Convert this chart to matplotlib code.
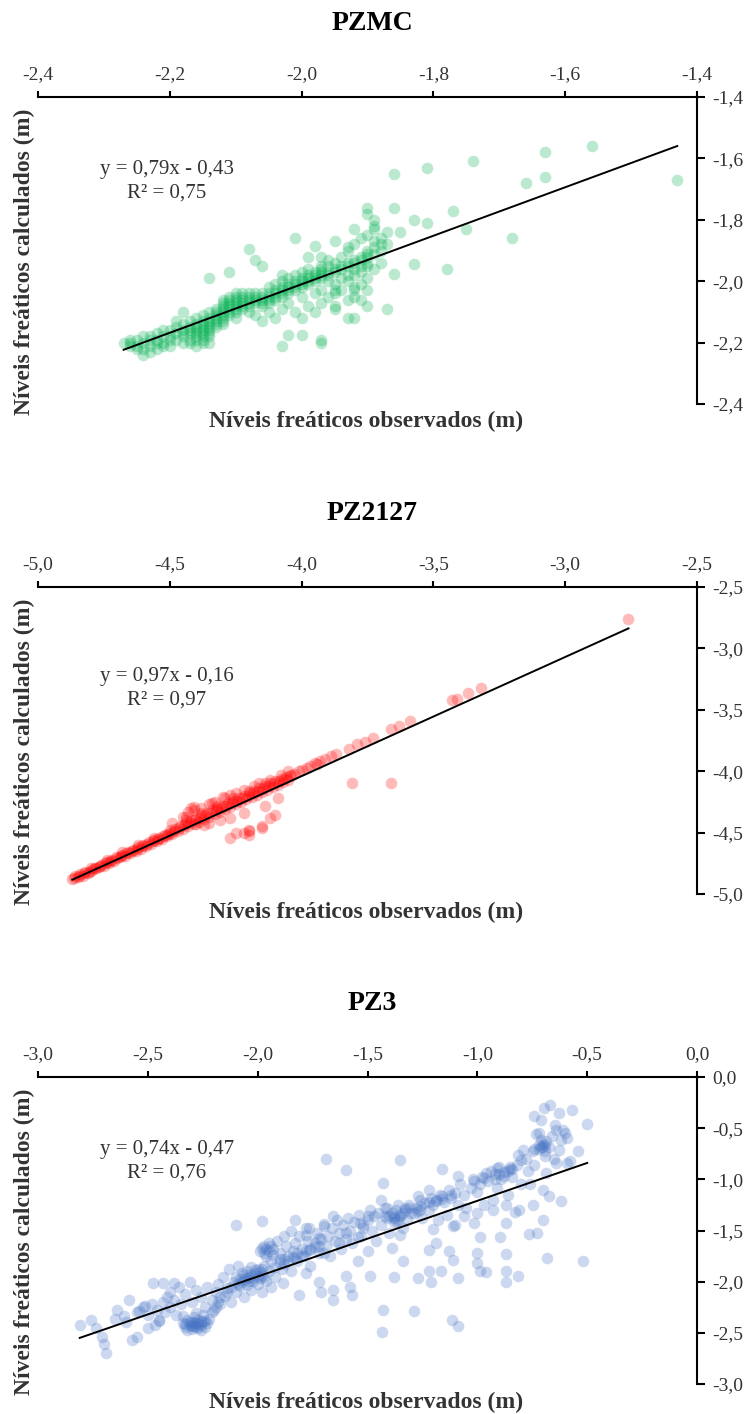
import numpy as np
import matplotlib
matplotlib.use("Agg")
import matplotlib.pyplot as plt
from matplotlib.ticker import FuncFormatter

plt.rcParams['font.family'] = ['Liberation Serif', 'DejaVu Serif']

pzmc_pts = [
    (-1.56, -1.56), (-1.63, -1.58), (-1.63, -1.66), (-1.66, -1.68), (-1.43, -1.67),
    (-1.74, -1.61), (-1.81, -1.63), (-1.86, -1.65), (-1.68, -1.86), (-1.75, -1.83),
    (-1.77, -1.77), (-1.78, -1.96), (-1.81, -1.81), (-1.83, -1.80), (-1.83, -1.945),
    (-1.85, -1.84), (-1.86, -1.76), (-1.86, -1.975), (-1.87, -2.09), (-1.90, -1.76),
    (-1.89, -1.80), (-1.89, -1.83), (-1.92, -1.83), (-1.90, -2.08), (-1.92, -2.12),
    (-1.93, -2.12), (-1.95, -2.09), (-1.97, -2.19), (-1.97, -2.20), (-2.00, -2.175),
    (-2.02, -2.175), (-2.03, -2.21), (-2.01, -1.86), (-1.98, -1.885), (-1.95, -1.87),
    (-1.93, -1.89), (-1.97, -1.92), (-1.99, -1.92), (-2.08, -1.895), (-2.07, -1.93),
    (-2.06, -1.95), (-2.11, -1.97), (-2.14, -1.99), (-2.18, -2.10), (-2.26, -2.20),
    (-2.24, -2.24), (-2.23, -2.23), (-1.95, -2.03), (-1.92, -2.03), (-1.90, -2.03),
    (-1.90, -1.90),
    (-2.27, -2.20), (-2.26, -2.21), (-2.25, -2.19), (-2.25, -2.22), (-2.24, -2.20),
    (-2.24, -2.18), (-2.23, -2.19), (-2.23, -2.21), (-2.22, -2.17), (-2.22, -2.20),
    (-2.22, -2.22), (-2.21, -2.18), (-2.21, -2.20), (-2.20, -2.16), (-2.20, -2.19),
    (-2.20, -2.21), (-2.19, -2.17), (-2.19, -2.15), (-2.18, -2.18), (-2.18, -2.16),
    (-2.18, -2.14), (-2.17, -2.17), (-2.17, -2.15), (-2.17, -2.13), (-2.16, -2.18),
    (-2.16, -2.16), (-2.16, -2.14), (-2.16, -2.12), (-2.15, -2.19), (-2.15, -2.17),
    (-2.15, -2.15), (-2.15, -2.13), (-2.15, -2.11), (-2.14, -2.18), (-2.14, -2.16),
    (-2.14, -2.14), (-2.14, -2.12), (-2.14, -2.10), (-2.13, -2.15), (-2.13, -2.13),
    (-2.13, -2.11), (-2.13, -2.09), (-2.12, -2.14), (-2.12, -2.12), (-2.12, -2.10),
    (-2.12, -2.08), (-2.12, -2.06), (-2.11, -2.11), (-2.11, -2.09), (-2.11, -2.07),
    (-2.11, -2.05), (-2.10, -2.12), (-2.10, -2.10), (-2.10, -2.08), (-2.10, -2.06),
    (-2.10, -2.04), (-2.09, -2.09), (-2.09, -2.07), (-2.09, -2.05), (-2.08, -2.10),
    (-2.08, -2.08), (-2.08, -2.06), (-2.08, -2.04), (-2.07, -2.07), (-2.07, -2.05),
    (-2.07, -2.11), (-2.06, -2.08), (-2.06, -2.06), (-2.06, -2.04), (-2.06, -2.13),
    (-2.05, -2.07), (-2.05, -2.05), (-2.05, -2.02), (-2.05, -2.10), (-2.04, -2.06),
    (-2.04, -2.04), (-2.04, -2.01), (-2.04, -2.12), (-2.03, -2.05), (-2.03, -2.03),
    (-2.03, -2.00), (-2.03, -1.98), (-2.03, -2.09), (-2.02, -2.04), (-2.02, -2.02),
    (-2.02, -1.99), (-2.02, -2.07), (-2.01, -2.03), (-2.01, -2.01), (-2.01, -1.98),
    (-2.01, -2.10), (-2.00, -2.02), (-2.00, -2.00), (-2.00, -1.97), (-2.00, -2.05),
    (-2.00, -2.12), (-1.99, -2.01), (-1.99, -1.99), (-1.99, -1.96), (-1.99, -2.08),
    (-1.98, -2.00), (-1.98, -1.98), (-1.98, -2.04), (-1.98, -2.10), (-1.97, -1.99),
    (-1.97, -1.97), (-1.97, -1.95), (-1.97, -2.03), (-1.97, -2.07), (-1.96, -1.98),
    (-1.96, -2.00), (-1.96, -2.05), (-1.96, -1.93), (-1.95, -1.97), (-1.95, -2.01),
    (-1.95, -2.04), (-1.95, -1.94), (-1.95, -2.08), (-1.94, -1.96), (-1.94, -1.99),
    (-1.94, -2.03), (-1.94, -1.92), (-1.93, -1.95), (-1.93, -2.00), (-1.93, -2.06),
    (-1.93, -1.90), (-1.92, -1.94), (-1.92, -1.98), (-1.92, -2.02), (-1.92, -1.88),
    (-1.92, -2.05), (-1.91, -1.93), (-1.91, -1.97), (-1.91, -2.01), (-1.91, -1.86),
    (-1.91, -2.06), (-1.90, -1.92), (-1.90, -1.95), (-1.90, -1.99), (-1.90, -1.85),
    (-1.90, -1.78), (-1.89, -1.91), (-1.89, -1.87), (-1.89, -1.96), (-1.89, -1.82),
    (-1.88, -1.90), (-1.88, -1.86), (-1.88, -1.94), (-1.87, -1.88), (-1.87, -1.84),
    (-2.16, -2.19), (-2.15, -2.20), (-2.16, -2.21), (-2.17, -2.20), (-2.14, -2.20),
    (-2.26, -2.19), (-2.25, -2.21), (-2.24, -2.22), (-2.23, -2.18), (-2.22, -2.19),
    (-2.21, -2.21), (-2.21, -2.16), (-2.20, -2.18), (-2.19, -2.19), (-2.19, -2.13),
    (-2.18, -2.17), (-2.18, -2.20), (-2.17, -2.16), (-2.17, -2.19), (-2.16, -2.15),
    (-2.16, -2.17), (-2.15, -2.16), (-2.15, -2.14), (-2.15, -2.18), (-2.14, -2.15),
    (-2.14, -2.13), (-2.14, -2.17), (-2.13, -2.14), (-2.13, -2.12), (-2.13, -2.10),
    (-2.12, -2.13), (-2.12, -2.11), (-2.12, -2.09), (-2.12, -2.07), (-2.11, -2.10),
    (-2.11, -2.08), (-2.11, -2.06), (-2.10, -2.09), (-2.10, -2.07), (-2.10, -2.05),
    (-2.09, -2.08), (-2.09, -2.06), (-2.09, -2.04), (-2.08, -2.07), (-2.08, -2.05),
    (-2.07, -2.06), (-2.07, -2.04), (-2.06, -2.05), (-2.06, -2.07), (-2.05, -2.04),
    (-2.05, -2.06), (-2.04, -2.03), (-2.04, -2.05), (-2.03, -2.02), (-2.03, -2.04),
    (-2.02, -2.01), (-2.02, -2.03), (-2.01, -2.00), (-2.01, -2.02), (-2.00, -1.99),
    (-2.00, -2.01), (-1.99, -1.98), (-1.99, -2.00), (-1.98, -1.97), (-1.98, -1.99),
    (-1.97, -1.96), (-1.97, -1.98), (-1.96, -1.95), (-1.96, -1.97), (-1.95, -1.96),
    (-1.94, -1.95), (-1.93, -1.94), (-1.92, -1.93), (-1.91, -1.92), (-1.90, -1.91),
    (-1.93, -1.98), (-1.92, -1.96), (-1.91, -1.95), (-1.90, -1.94), (-1.89, -1.89),
    (-1.88, -1.88),
]

pz2127_pts = [
    (-2.76, -2.76), (-3.32, -3.32), (-3.37, -3.36), (-3.41, -3.41), (-3.43, -3.42),
    (-3.59, -3.59), (-3.63, -3.63), (-3.66, -3.66), (-3.73, -3.73), (-3.76, -3.76),
    (-3.79, -3.78), (-3.82, -3.82), (-3.89, -3.88), (-3.93, -3.92), (-3.94, -3.94),
    (-3.98, -3.97), (-4.01, -4.00), (-4.04, -4.03), (-3.81, -4.10), (-3.66, -4.10),
    (-4.09, -4.22), (-4.14, -4.28), (-4.10, -4.36), (-4.12, -4.38), (-4.15, -4.45),
    (-4.22, -4.34), (-4.27, -4.38), (-4.27, -4.54), (-4.25, -4.50), (-4.20, -4.49),
    (-4.20, -4.52), (-4.22, -4.50), (-4.30, -4.21), (-4.34, -4.26), (-4.41, -4.29),
    (-4.49, -4.42), (-4.31, -4.40), (-4.35, -4.42), (-4.40, -4.43), (-4.45, -4.37),
    (-4.37, -4.44), (-4.42, -4.30), (-4.15, -4.46), (-4.20, -4.48),
    (-4.87, -4.88), (-4.85, -4.86), (-4.84, -4.84), (-4.83, -4.85), (-4.82, -4.82),
    (-4.81, -4.83), (-4.80, -4.81), (-4.79, -4.80), (-4.78, -4.79), (-4.77, -4.78),
    (-4.76, -4.76), (-4.75, -4.77), (-4.74, -4.74), (-4.73, -4.75), (-4.72, -4.72),
    (-4.71, -4.73), (-4.70, -4.71), (-4.69, -4.70), (-4.68, -4.68), (-4.67, -4.69),
    (-4.66, -4.66), (-4.65, -4.67), (-4.64, -4.64), (-4.63, -4.65), (-4.62, -4.62),
    (-4.61, -4.63), (-4.60, -4.60), (-4.59, -4.61), (-4.58, -4.58), (-4.57, -4.59),
    (-4.56, -4.56), (-4.55, -4.57), (-4.54, -4.54), (-4.53, -4.55), (-4.52, -4.52),
    (-4.51, -4.53), (-4.50, -4.50), (-4.49, -4.51), (-4.48, -4.47), (-4.47, -4.49),
    (-4.46, -4.45), (-4.45, -4.47), (-4.44, -4.42), (-4.43, -4.45), (-4.42, -4.40),
    (-4.41, -4.43), (-4.40, -4.38), (-4.39, -4.41), (-4.38, -4.36), (-4.37, -4.39),
    (-4.36, -4.34), (-4.35, -4.37), (-4.34, -4.32), (-4.33, -4.35), (-4.32, -4.30),
    (-4.31, -4.33), (-4.30, -4.28), (-4.29, -4.31), (-4.28, -4.26), (-4.27, -4.29),
    (-4.26, -4.24), (-4.25, -4.27), (-4.24, -4.22), (-4.23, -4.25), (-4.22, -4.20),
    (-4.21, -4.23), (-4.20, -4.18), (-4.19, -4.21), (-4.18, -4.16), (-4.17, -4.19),
    (-4.16, -4.14), (-4.15, -4.17), (-4.14, -4.12), (-4.13, -4.15), (-4.12, -4.10),
    (-4.11, -4.13), (-4.10, -4.08), (-4.09, -4.11), (-4.08, -4.06), (-4.07, -4.09),
    (-4.06, -4.05), (-4.05, -4.07), (-4.03, -4.02),
    (-4.86, -4.85), (-4.80, -4.79), (-4.74, -4.72), (-4.68, -4.66), (-4.62, -4.60),
    (-4.56, -4.54), (-4.50, -4.48), (-4.44, -4.40), (-4.38, -4.34), (-4.32, -4.28),
    (-4.26, -4.22), (-4.20, -4.16), (-4.14, -4.10),
    (-4.865, -4.87), (-4.845, -4.85), (-4.825, -4.83), (-4.805, -4.82), (-4.785, -4.79),
    (-4.765, -4.77), (-4.745, -4.75), (-4.725, -4.73), (-4.705, -4.70), (-4.685, -4.69),
    (-4.665, -4.67), (-4.645, -4.65), (-4.625, -4.63), (-4.605, -4.61), (-4.585, -4.59),
    (-4.565, -4.57), (-4.545, -4.55), (-4.525, -4.53), (-4.505, -4.51), (-4.485, -4.49),
    (-4.465, -4.46), (-4.445, -4.44), (-4.425, -4.42), (-4.405, -4.40), (-4.385, -4.38),
    (-4.365, -4.36), (-4.345, -4.34), (-4.325, -4.32), (-4.305, -4.30), (-4.285, -4.28),
    (-4.265, -4.26), (-4.245, -4.24), (-4.225, -4.22), (-4.205, -4.20), (-4.185, -4.18),
    (-4.165, -4.16), (-4.145, -4.14), (-4.125, -4.12), (-4.105, -4.10), (-4.085, -4.08),
    (-4.065, -4.06), (-4.045, -4.04),
    (-4.44, -4.37), (-4.43, -4.33), (-4.41, -4.32), (-4.38, -4.30), (-4.35, -4.27),
    (-4.33, -4.25), (-4.29, -4.22), (-4.27, -4.19), (-4.25, -4.18), (-4.22, -4.15),
    (-4.18, -4.12), (-4.16, -4.10), (-4.12, -4.07), (-4.08, -4.03), (-4.05, -4.00),
    (-4.00, -3.99), (-3.97, -3.96), (-3.95, -3.93), (-3.91, -3.90), (-3.87, -3.86),
]

pz3_pts = [
    (-2.81, -2.42), (-2.76, -2.37), (-2.735, -2.455), (-2.71, -2.54), (-2.70, -2.61),
    (-2.69, -2.70), (-2.64, -2.28), (-2.65, -2.36), (-2.585, -2.18), (-2.57, -2.57),
    (-2.55, -2.54), (-2.50, -2.455), (-2.475, -2.015), (-2.43, -2.015), (-2.38, -2.015),
    (-2.466, -2.42), (-2.45, -2.37), (-2.415, -2.15), (-2.54, -2.29), (-2.515, -2.24),
    (-2.61, -2.34), (-2.60, -2.39),
    (-2.10, -1.445), (-1.98, -1.41), (-1.69, -0.80), (-1.60, -0.91), (-1.35, -0.815),
    (-1.16, -0.90), (-1.09, -0.97), (-1.43, -1.04), (-1.43, -2.28), (-1.435, -2.49),
    (-1.29, -2.29), (-1.114, -2.37), (-1.09, -2.43), (-0.52, -1.80), (-0.50, -0.456),
    (-0.567, -0.32), (-0.63, -0.35), (-0.67, -0.277), (-0.695, -0.30), (-0.74, -0.385),
    (-0.645, -0.466), (-0.61, -0.515), (-0.59, -0.60), (-0.735, -0.554), (-0.687, -0.63),
    (-0.675, -0.68), (-0.63, -0.71), (-0.54, -0.727), (-0.59, -0.84), (-0.64, -0.84),
    (-0.69, -0.77), (-0.746, -0.727), (-0.79, -0.71), (-0.816, -0.76), (-0.74, -0.86),
    (-0.687, -0.94), (-0.70, -1.10), (-0.675, -1.167), (-0.62, -1.21), (-0.746, -1.25),
    (-0.70, -1.40), (-0.73, -1.525), (-0.765, -1.53), (-0.684, -1.764), (-0.81, -1.30),
    (-0.87, -1.25), (-0.87, -1.43), (-0.895, -1.56), (-0.87, -1.73), (-0.87, -1.90),
    (-0.87, -2.00), (-0.816, -1.94), (-0.93, -1.20), (-0.97, -0.99), (-0.96, -0.94),
    (-1.015, -1.02), (-0.91, -0.89), (-0.85, -0.875), (-0.80, -0.81), (-1.00, -1.33),
    (-1.015, -1.43), (-0.99, -1.56), (-1.00, -1.72), (-1.00, -1.82), (-0.99, -1.90),
    (-0.96, -1.91), (-1.09, -1.966), (-1.11, -1.79), (-1.13, -1.705), (-1.09, -1.25),
    (-1.06, -1.363), (-1.10, -1.13), (-1.16, -1.167), (-1.19, -1.20), (-1.11, -1.46),
    (-1.20, -1.49), (-1.19, -1.62), (-1.22, -1.69), (-1.165, -1.90), (-1.21, -2.00),
    (-1.27, -1.966), (-1.22, -1.90), (-1.22, -1.10), (-1.26, -1.263), (-1.27, -1.167),
    (-1.27, -1.31), (-1.31, -1.28), (-1.33, -1.28), (-1.35, -1.363), (-1.38, -1.363),
    (-1.37, -1.41), (-1.42, -1.356), (-1.44, -1.20), (-1.41, -1.28), (-1.35, -1.54),
    (-1.39, -1.67), (-1.34, -1.80), (-1.38, -1.95), (-1.50, -1.363), (-1.533, -1.43),
    (-1.52, -1.48), (-1.545, -1.56), (-1.50, -1.70), (-1.545, -1.80), (-1.49, -1.94),
    (-1.60, -1.94), (-1.58, -2.05), (-1.57, -2.13), (-1.655, -2.08), (-1.655, -2.18),
    (-1.72, -2.00), (-1.71, -2.10), (-1.60, -1.525), (-1.63, -1.62), (-1.655, -1.363),
    (-1.70, -1.46), (-1.78, -1.917), (-1.81, -2.13), (-1.886, -2.015), (-1.83, -1.77),
    (-1.765, -1.69), (-1.72, -1.575), (-1.765, -1.48), (-1.83, -1.395), (-1.78, -1.54),
    (-1.70, -1.72),
    (-2.55, -2.30), (-2.52, -2.25), (-2.50, -2.33), (-2.48, -2.22), (-2.46, -2.28),
    (-2.45, -2.38), (-2.43, -2.20), (-2.42, -2.30), (-2.40, -2.25), (-2.40, -2.10),
    (-2.38, -2.18), (-2.37, -2.33), (-2.36, -2.05), (-2.35, -2.22),
    (-2.34, -2.40), (-2.33, -2.44), (-2.32, -2.37), (-2.31, -2.42), (-2.30, -2.46),
    (-2.30, -2.39), (-2.29, -2.35), (-2.29, -2.43), (-2.28, -2.40), (-2.27, -2.37),
    (-2.27, -2.45), (-2.26, -2.42), (-2.25, -2.38), (-2.25, -2.33), (-2.24, -2.44),
    (-2.23, -2.40), (-2.22, -2.36), (-2.32, -2.47), (-2.28, -2.31), (-2.34, -2.34),
    (-2.26, -2.47),
    (-2.33, -2.12), (-2.31, -2.00), (-2.30, -2.20), (-2.28, -2.08), (-2.26, -2.15),
    (-2.24, -2.25), (-2.23, -2.05), (-2.21, -2.18), (-2.20, -2.28), (-2.19, -2.10),
    (-2.18, -2.02), (-2.17, -2.22), (-2.16, -1.95), (-2.15, -2.14),
    (-2.14, -2.06), (-2.13, -1.88), (-2.12, -2.20), (-2.11, -2.00), (-2.10, -1.95),
    (-2.10, -2.10), (-2.09, -1.85), (-2.08, -2.04), (-2.07, -1.92), (-2.06, -1.98),
    (-2.06, -2.15), (-2.05, -1.90), (-2.05, -2.03), (-2.04, -1.95), (-2.03, -2.08),
    (-2.03, -1.86), (-2.02, -1.99), (-2.01, -1.92), (-2.00, -2.02), (-2.00, -1.88),
    (-1.99, -1.96), (-1.99, -1.70), (-1.98, -1.93), (-1.98, -2.10), (-1.97, -1.65),
    (-1.97, -1.85), (-1.96, -1.99), (-1.96, -1.75), (-1.95, -1.90), (-1.95, -1.62),
    (-1.94, -2.05), (-1.94, -1.80),
    (-1.93, -1.68), (-1.92, -1.86), (-1.92, -1.95), (-1.91, -1.60), (-1.90, -1.78),
    (-1.90, -1.72), (-1.89, -1.88), (-1.88, -1.55), (-1.88, -1.83), (-1.87, -1.65),
    (-1.86, -1.75), (-1.85, -1.50), (-1.85, -1.90), (-1.84, -1.70), (-1.83, -1.62),
    (-1.82, -1.80), (-1.81, -1.55), (-1.80, -1.68), (-1.79, -1.75), (-1.78, -1.48),
    (-1.77, -1.60), (-1.76, -1.85),
    (-1.74, -1.66), (-1.73, -1.52), (-1.72, -1.72), (-1.71, -1.58), (-1.70, -1.44),
    (-1.69, -1.65), (-1.68, -1.55), (-1.67, -1.75), (-1.66, -1.48), (-1.65, -1.60),
    (-1.64, -1.40), (-1.63, -1.52), (-1.62, -1.68), (-1.61, -1.45), (-1.60, -1.58),
    (-1.59, -1.38), (-1.58, -1.50), (-1.57, -1.62), (-1.56, -1.42),
    (-1.54, -1.35), (-1.53, -1.55), (-1.52, -1.45), (-1.50, -1.40), (-1.49, -1.30),
    (-1.48, -1.50), (-1.47, -1.36), (-1.46, -1.60), (-1.45, -1.33), (-1.44, -1.45),
    (-1.42, -1.28), (-1.41, -1.38), (-1.40, -1.52), (-1.39, -1.33), (-1.38, -1.42),
    (-1.37, -1.30), (-1.36, -1.25), (-1.35, -1.35), (-1.34, -1.48), (-1.33, -1.30),
    (-1.32, -1.40), (-1.31, -1.25),
    (-1.29, -1.33), (-1.28, -1.28), (-1.26, -1.20), (-1.25, -1.38), (-1.24, -1.23),
    (-1.22, -1.30), (-1.21, -1.18), (-1.20, -1.25), (-1.18, -1.40), (-1.17, -1.15),
    (-1.15, -1.22), (-1.14, -1.35), (-1.13, -1.10), (-1.12, -1.18), (-1.10, -1.45),
    (-1.08, -1.05), (-1.06, -1.15), (-1.05, -1.28), (-1.03, -1.08), (-1.02, -1.00),
    (-1.00, -1.12), (-0.99, -1.05), (-0.98, -0.98), (-0.97, -1.25),
    (-0.95, -1.02), (-0.94, -0.92), (-0.93, -1.30), (-0.92, -0.95), (-0.91, -1.08),
    (-0.90, -0.88), (-0.89, -1.00), (-0.88, -0.93), (-0.86, -1.15), (-0.85, -0.90),
    (-0.84, -0.98), (-0.83, -1.32), (-0.82, -0.86), (-0.80, -1.05), (-0.78, -0.80),
    (-0.77, -0.92), (-0.76, -1.05),
    (-0.74, -0.70), (-0.72, -0.66), (-0.71, -0.62), (-0.70, -0.68), (-0.69, -0.72),
    (-0.71, -0.42), (-0.72, -0.55), (-0.66, -0.58), (-0.64, -0.52), (-0.62, -0.62),
    (-0.60, -0.55), (-0.65, -0.80), (-0.58, -0.82),
    (-2.06, -1.93), (-2.05, -1.96), (-2.04, -1.99), (-2.03, -1.93), (-2.02, -1.96),
    (-2.01, -1.89), (-2.00, -1.94), (-1.99, -1.91), (-1.98, -1.88), (-1.97, -1.95),
    (-2.08, -1.97), (-2.07, -2.00), (-2.09, -2.02), (-1.98, -1.67), (-1.97, -1.72),
    (-1.96, -1.68), (-1.95, -1.70), (-1.94, -1.65), (-1.93, -1.74), (-2.31, -2.39),
    (-2.30, -2.43), (-2.29, -2.40), (-2.28, -2.44), (-2.27, -2.41), (-2.26, -2.39),
    (-2.33, -2.41), (-2.24, -2.38), (-2.21, -2.30), (-2.19, -2.25), (-2.17, -2.15),
    (-2.14, -2.10), (-2.12, -2.05), (-2.18, -2.20), (-1.90, -1.82), (-1.88, -1.78),
    (-1.86, -1.80), (-1.84, -1.76), (-1.82, -1.72), (-1.80, -1.75), (-1.78, -1.70),
    (-1.76, -1.68), (-1.74, -1.62), (-1.72, -1.65), (-1.40, -1.36), (-1.38, -1.38),
    (-1.36, -1.40), (-1.34, -1.33), (-1.30, -1.33), (-1.26, -1.30), (-1.22, -1.22),
    (-1.19, -1.21), (-1.16, -1.19), (-1.12, -1.15), (-0.92, -1.00), (-0.90, -0.95),
    (-0.88, -0.97), (-0.86, -0.92), (-0.84, -0.90), (-0.71, -0.68), (-0.70, -0.65),
    (-0.69, -0.66), (-0.72, -0.70),
]

titles = ["PZMC", "PZ2127", "PZ3"]
colors = ["#00B050", "#FF0000", "#4472C4"]
slopes = [0.79, 0.97, 0.74]
intercepts = [-0.43, -0.16, -0.47]
r2 = ["0,75", "0,97", "0,76"]
limits = [(-2.4, -1.4), (-5.0, -2.5), (-3.0, 0.0)]
steps = [0.2, 0.5, 0.5]
all_pts = [pzmc_pts, pz2127_pts, pz3_pts]

W, H = 756, 1414
fig = plt.figure(figsize=(W / 100, H / 100), dpi=100)

# panel geometry in pixels: top of axes, title y, equation y, xlabel y
ax_top = [97, 587, 1077]
title_y = [24, 513, 1003]
eq_y = [181, 688, 1161]
xlab_y = [421, 912, 1402]
ax_h = 307
ax_left, ax_w = 38, 659


def comma(v, pos):
    v = round(v, 1) + 0.0
    return f"{v:.1f}".replace(".", ",").replace("-0,0", "0,0")


for i in range(3):
    pts = np.array(all_pts[i])
    x, y = pts[:, 0], pts[:, 1]
    lo, hi = limits[i]
    ax = fig.add_axes([ax_left / W, 1 - (ax_top[i] + ax_h) / H, ax_w / W, ax_h / H])
    ax.scatter(x, y, s=70, color=colors[i], alpha=0.27, linewidths=0, zorder=2)
    xx = np.array([x.min(), x.max()])
    ax.plot(xx, slopes[i] * xx + intercepts[i], color="black", lw=1.4, zorder=3)

    ax.set_xlim(lo, hi)
    ax.set_ylim(lo, hi)
    ticks = np.arange(lo, hi + steps[i] / 2, steps[i])
    ax.set_xticks(ticks)
    ax.set_yticks(ticks)
    ax.xaxis.set_major_formatter(FuncFormatter(comma))
    ax.yaxis.set_major_formatter(FuncFormatter(comma))
    ax.xaxis.tick_top()
    ax.yaxis.tick_right()
    for side in ["left", "bottom"]:
        ax.spines[side].set_visible(False)
    for side in ["top", "right"]:
        ax.spines[side].set_linewidth(1.5)
    ax.tick_params(axis="x", direction="out", length=4, width=1.5, pad=6, labelsize=14)
    ax.tick_params(axis="y", direction="out", length=6, width=1.5, pad=5, labelsize=14)
    for lab in ax.get_xticklabels() + ax.get_yticklabels():
        lab.set_color("#333333")
    ax.patch.set_alpha(0)

    sign = "-" if intercepts[i] < 0 else "+"
    eq = f"y = {slopes[i]:.2f}x {sign} {abs(intercepts[i]):.2f}".replace(".", ",")
    fig.text(167 / W, 1 - eq_y[i] / H, eq + "\nR² = " + r2[i], ha="center",
             va="center", fontsize=15, linespacing=1.3, color="#333333")

    fig.text(372 / W, 1 - title_y[i] / H, titles[i], ha="center", va="center",
             fontsize=20, fontweight="bold")
    fig.text(366 / W, 1 - xlab_y[i] / H, "Níveis freáticos observados (m)",
             ha="center", va="center", fontsize=17, fontweight="bold", color="#333333")
    fig.text(24 / W, 1 - (ax_top[i] + 165) / H, "Níveis freáticos calculados (m)",
             ha="center", va="center", rotation=90, fontsize=17, fontweight="bold",
             color="#333333")

fig.savefig("out.png", dpi=100)
